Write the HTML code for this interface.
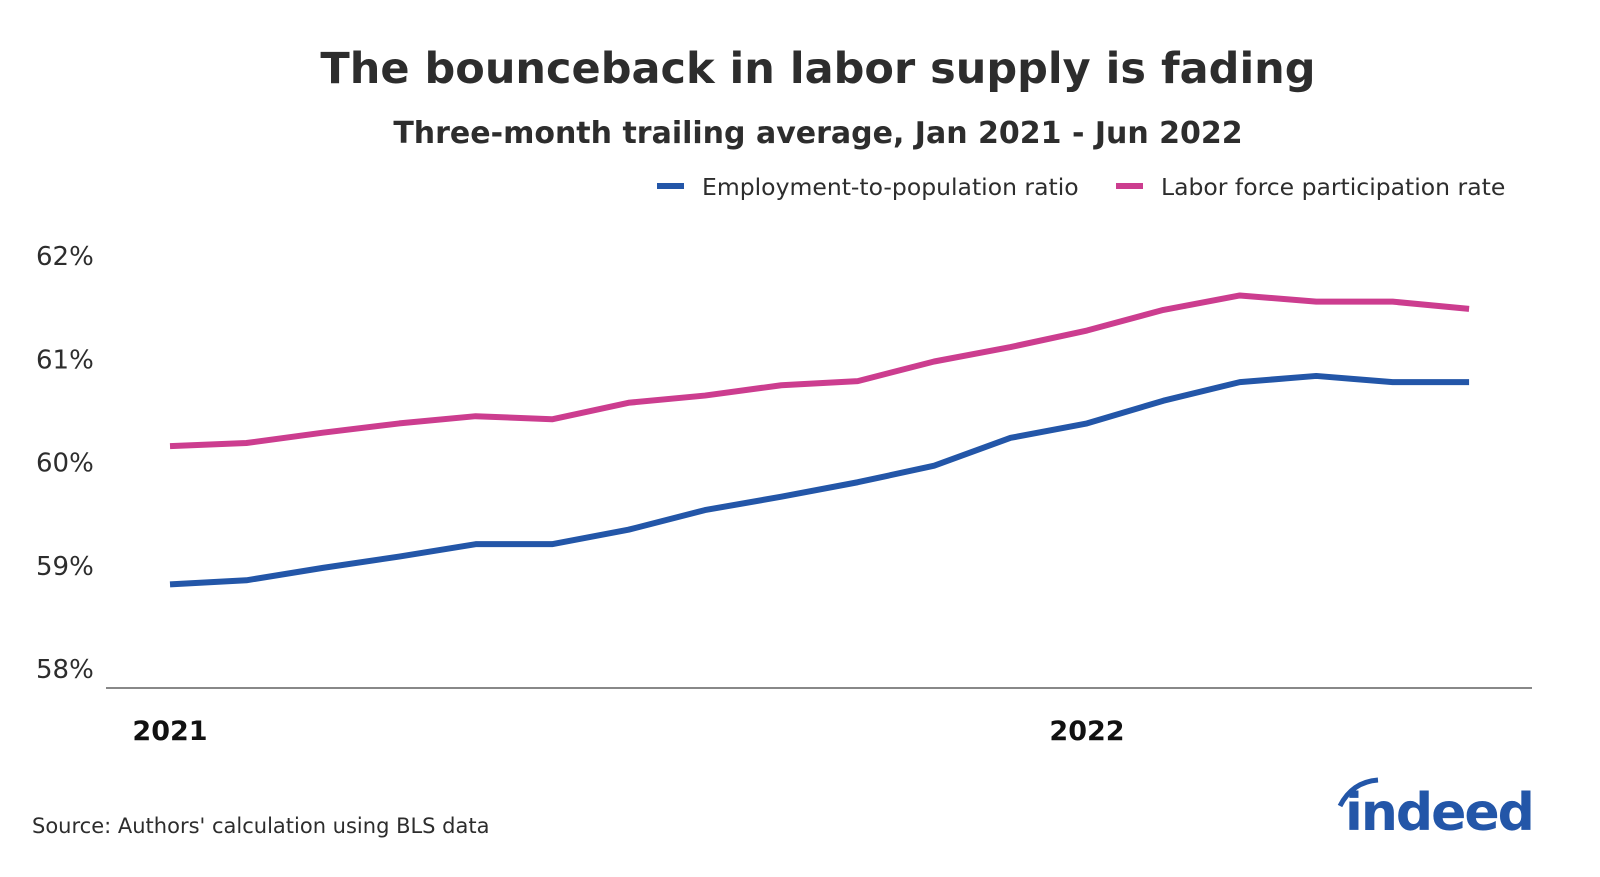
<!DOCTYPE html>
<html><head><meta charset="utf-8"><style>
body{margin:0;background:#fff;width:1600px;height:873px;overflow:hidden;font-family:"DejaVu Sans","Liberation Sans",sans-serif;color:#222}
svg text{font-family:"DejaVu Sans","Liberation Sans",sans-serif}
</style></head><body>
<svg width="1600" height="873">
<text x="818" y="83" text-anchor="middle" font-size="43" font-weight="bold" fill="#2d2d2d">The bounceback in labor supply is fading</text>
<text x="818" y="143" text-anchor="middle" font-size="30" font-weight="bold" fill="#2d2d2d">Three-month trailing average, Jan 2021 - Jun 2022</text>
<g>
<rect x="657" y="183" width="27" height="6" fill="#2356a8"/>
<text x="702" y="195" font-size="23.5" fill="#2d2d2d">Employment-to-population ratio</text>
<rect x="1116" y="183" width="27" height="6" fill="#cc3d8f"/>
<text x="1161" y="195" font-size="23.5" fill="#2d2d2d">Labor force participation rate</text>
</g>
<g id="yaxis"></g>
<g id="xaxis"></g>
<line x1="106" y1="688" x2="1532" y2="688" stroke="#888" stroke-width="2"/>
<g id="series"></g>
<text x="32" y="833" font-size="21" fill="#2d2d2d">Source: Authors' calculation using BLS data</text>
<g>
<path d="M1340 806 Q1352 782 1378 780" stroke="#2356a8" stroke-width="5" fill="none"/>
<text x="1345" y="830" font-size="52" font-weight="bold" fill="#2356a8" letter-spacing="-2">indeed</text>
</g>
</svg>
<script>
const months=18;
const epop=[58.81,58.85,58.97,59.08,59.2,59.2,59.34,59.53,59.66,59.8,59.96,60.23,60.37,60.59,60.77,60.83,60.77,60.77];
const lfpr=[60.15,60.18,60.28,60.37,60.44,60.41,60.57,60.64,60.74,60.78,60.97,61.11,61.27,61.47,61.61,61.55,61.55,61.48];
const yTicks=[58,59,60,61,62];
const xTickLabels=["2021","2022"];
const xTickIdx=[0,12];
const NS="http://www.w3.org/2000/svg";
const xs=i=>170+i*(1087-170)/12;
const ys=v=>668-(v-58)*103.2;
const ya=document.getElementById('yaxis');
yTicks.forEach(t=>{const e=document.createElementNS(NS,'text');e.setAttribute('x',36);e.setAttribute('y',ys(t)+10);e.setAttribute('font-size','26');e.setAttribute('fill','#2d2d2d');e.textContent=t+'%';


ya.appendChild(e);});
const xa=document.getElementById('xaxis');
xTickLabels.forEach((l,k)=>{const e=document.createElementNS(NS,'text');e.setAttribute('x',xs(xTickIdx[k]));e.setAttribute('y',740);e.setAttribute('text-anchor','middle');e.setAttribute('font-size','27');e.setAttribute('font-weight','bold');e.setAttribute('fill','#111');e.textContent=l;


xa.appendChild(e);});
const sg=document.getElementById('series');
[[lfpr,'#cc3d8f','lfpr-line'],[epop,'#2356a8','epop-line']].forEach(([d,c,n])=>{const p=document.createElementNS(NS,'polyline');p.setAttribute('points',d.map((v,i)=>xs(i)+','+ys(v)).join(' '));p.setAttribute('fill','none');p.setAttribute('stroke',c);p.setAttribute('stroke-width','6');p.setAttribute('stroke-linejoin','round');


sg.appendChild(p);});
</script>
</body></html>
